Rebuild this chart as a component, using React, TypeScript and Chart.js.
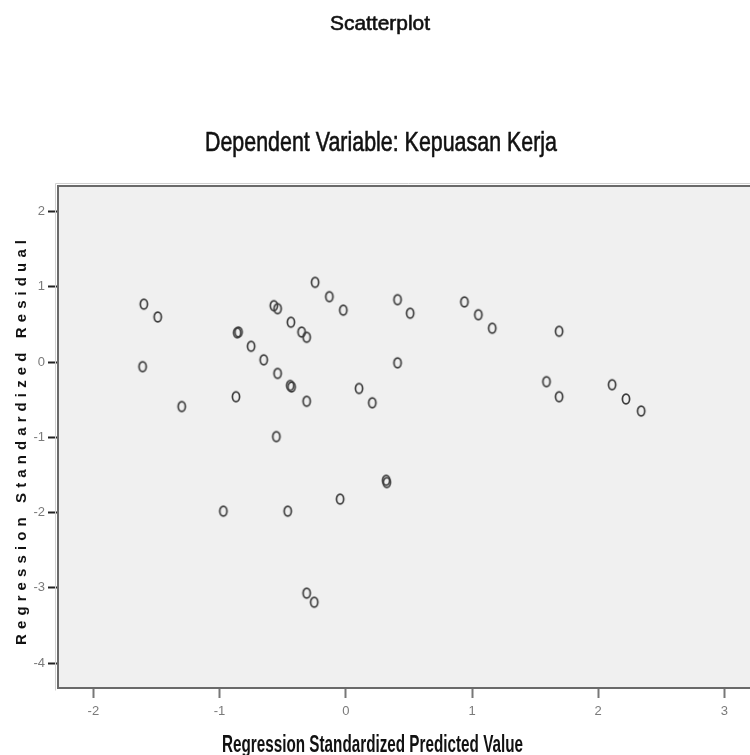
import React, { useEffect, useRef } from 'react';
import { Chart, registerables } from 'chart.js';

Chart.register(...registerables);

const chartTitle = 'Scatterplot';
const chartSubtitle = 'Dependent Variable: Kepuasan Kerja';
const xAxisTitle = 'Regression Standardized Predicted Value';
const yAxisTitle = 'Regression Standardized Residual';

const xTickValues = [-2, -1, 0, 1, 2, 3];
const yTickValues = [-4, -3, -2, -1, 0, 1, 2];

const predictedValues = [
  -1.60, -1.49, -1.61, -1.30, -0.86, -0.85, -0.87, -0.75, -0.65, -0.54,
  -0.44, -0.43, -0.31, -0.57, -0.54, -0.435, -0.35, -0.31, -0.243, -0.13,
  -0.02, 0.41, 0.51, 0.41, 0.105, 0.21, -0.55, 0.32, 0.325, -0.045,
  -0.97, -0.46, -0.31, -0.25, 0.94, 1.05, 1.16, 1.69, 1.59, 1.69,
  2.11, 2.22, 2.34,
];
const residualValues = [
  0.77, 0.60, -0.06, -0.59, 0.39, 0.40, -0.46, 0.21, 0.03, -0.15,
  -0.31, -0.33, -0.52, 0.75, 0.71, 0.53, 0.40, 0.33, 1.06, 0.87,
  0.69, 0.83, 0.65, -0.01, -0.35, -0.54, -0.99, -1.57, -1.60, -1.82,
  -1.98, -1.98, -3.07, -3.19, 0.80, 0.63, 0.45, 0.41, -0.26, -0.46,
  -0.30, -0.49, -0.65,
];

const FONT = '"Liberation Sans", Arial, sans-serif';

function makeMarker(): HTMLCanvasElement {
  const c = document.createElement('canvas');
  c.width = 12;
  c.height = 14;
  const g = c.getContext('2d')!;
  g.strokeStyle = '#3c3c3c';
  g.lineWidth = 1.7;
  g.beginPath();
  g.ellipse(6, 7, 3.6, 4.8, 0, 0, Math.PI * 2);
  g.stroke();
  return c;
}

function drawFitted(ctx: CanvasRenderingContext2D, text: string, font: string, cx: number, baseline: number, width: number, stroke = 0) {
  ctx.save();
  ctx.font = font;
  const w = ctx.measureText(text).width;
  ctx.translate(cx, baseline);
  ctx.scale(width / w, 1);
  ctx.textAlign = 'center';
  ctx.textBaseline = 'alphabetic';
  ctx.fillText(text, 0, 0);
  if (stroke > 0) {
    ctx.strokeStyle = ctx.fillStyle;
    ctx.lineWidth = stroke;
    ctx.strokeText(text, 0, 0);
  }
  ctx.restore();
}

const decorPlugin = {
  id: 'decor',
  beforeDraw(chart: any) {
    const { ctx, chartArea: a } = chart;
    ctx.save();
    ctx.fillStyle = '#f0f0f0';
    ctx.fillRect(a.left, a.top, a.right - a.left, a.bottom - a.top);
    ctx.restore();
  },
  beforeDatasetsDraw(chart: any) {
    const { ctx, chartArea: a } = chart;
    ctx.save();
    ctx.strokeStyle = '#d0d0d0';
    ctx.lineWidth = 1;
    ctx.beginPath();
    ctx.moveTo(a.left - 2.5, a.bottom + 2.5);
    ctx.lineTo(a.left - 2.5, a.top - 2.5);
    ctx.lineTo(a.right + 5, a.top - 2.5);
    ctx.stroke();
    ctx.strokeStyle = '#6a6a6a';
    ctx.lineWidth = 2;
    ctx.beginPath();
    ctx.moveTo(a.right + 5, a.top);
    ctx.lineTo(a.left, a.top);
    ctx.lineTo(a.left, a.bottom);
    ctx.lineTo(a.right + 5, a.bottom);
    ctx.stroke();
    ctx.restore();
  },
  afterDraw(chart: any) {
    const { ctx } = chart;
    ctx.save();
    ctx.fillStyle = '#111';
    drawFitted(ctx, chartTitle, '21px ' + FONT, 380, 29.5, 100, 0.6);
    drawFitted(ctx, chartSubtitle, '28px ' + FONT, 381, 151, 352, 0.6);
    drawFitted(ctx, xAxisTitle, 'bold 23px ' + FONT, 372.5, 751.5, 301);
    ctx.font = 'bold 15px ' + FONT;
    const n = yAxisTitle.length;
    const w0 = ctx.measureText(yAxisTitle).width;
    const span = 405;
    const spacing = (span - w0) / (n - 1);
    ctx.translate(25.5, 442.5);
    ctx.rotate(-Math.PI / 2);
    (ctx as any).letterSpacing = spacing + 'px';
    ctx.textAlign = 'left';
    ctx.textBaseline = 'alphabetic';
    ctx.fillText(yAxisTitle, -span / 2, 0);
    ctx.restore();
  },
};

export default function App() {
  const ref = useRef<HTMLCanvasElement>(null);
  useEffect(() => {
    const canvas = ref.current!;
    const marker = makeMarker();
    const points = predictedValues.map((x, i) => ({ x, y: residualValues[i] }));
    const chart = new Chart(canvas, {
      type: 'scatter',
      data: {
        datasets: [
          {
            data: points,
            pointStyle: marker as any,
            pointRadius: 5,
            pointHoverRadius: 5,
          },
        ],
      },
      options: {
        responsive: false,
        animation: false,
        devicePixelRatio: 1,
        layout: { padding: { top: 186, right: 6, left: 0, bottom: 0 } },
        plugins: { legend: { display: false }, tooltip: { enabled: false }, title: { display: false } },
        scales: {
          x: {
            type: 'linear',
            min: -2.28,
            max: 3.25,
            afterBuildTicks: (s: any) => {
              s.ticks = xTickValues.map((v) => ({ value: v }));
            },
            afterFit: (s: any) => {
              s.height = 67;
            },
            grid: {
              display: true,
              drawOnChartArea: false,
              tickLength: 10,
              tickColor: '#777',
              tickWidth: 2,
            },
            border: { display: false },
            ticks: {
              color: '#7a7a7a',
              font: { family: 'Liberation Sans, Arial', size: 13 },
              padding: 6,
              maxRotation: 0,
            },
          },
          y: {
            type: 'linear',
            min: -4.33,
            max: 2.34,
            afterBuildTicks: (s: any) => {
              s.ticks = yTickValues.map((v) => ({ value: v }));
            },
            afterFit: (s: any) => {
              s.width = 58;
            },
            grid: {
              display: true,
              drawOnChartArea: false,
              tickLength: 10,
              tickColor: '#222',
              tickWidth: 2,
            },
            border: { display: false },
            ticks: {
              color: '#7a7a7a',
              font: { family: 'Liberation Sans, Arial', size: 13 },
              padding: 3,
            },
          },
        },
      },
      plugins: [decorPlugin],
    });
    return () => chart.destroy();
  }, []);
  return (
    <div style={{ position: 'absolute', left: 0, top: 0, width: 750, height: 755, overflow: 'hidden', background: '#fff' }}>
      <canvas ref={ref} width={762} height={755} style={{ display: 'block' }} />
    </div>
  );
}
